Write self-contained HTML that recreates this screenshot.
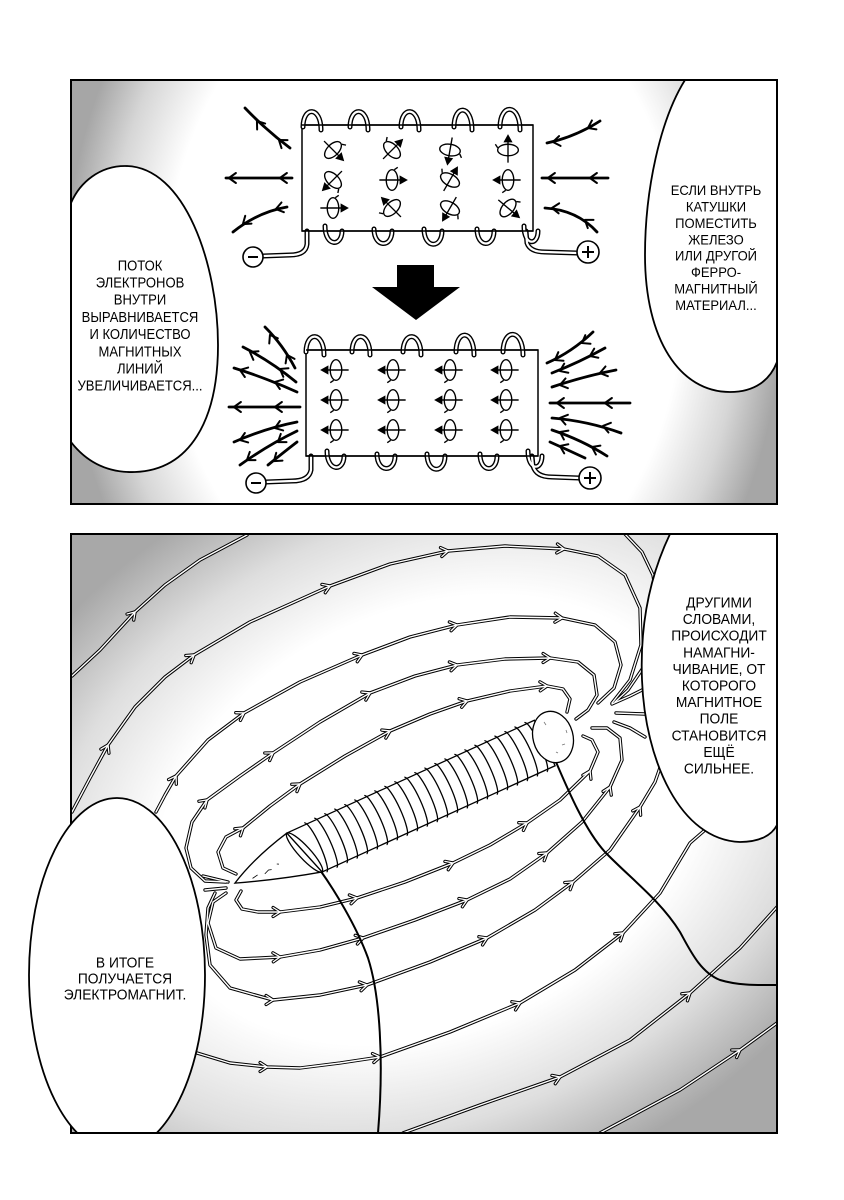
<!DOCTYPE html>
<html><head><meta charset="utf-8"><style>
html,body{margin:0;padding:0;background:#fff;}
svg{display:block;}
.t{font-family:"Liberation Sans","DejaVu Sans",sans-serif;fill:#000;text-anchor:middle;}
</style></head><body>
<svg width="844" height="1200" viewBox="0 0 844 1200" xmlns="http://www.w3.org/2000/svg">
<defs>
<radialGradient id="g1" gradientUnits="userSpaceOnUse" cx="424" cy="290" r="360" gradientTransform="translate(424 290) scale(1 1.3) translate(-424 -290)">
<stop offset="0" stop-color="#fff"/><stop offset="0.72" stop-color="#fff"/><stop offset="0.88" stop-color="#d6d6d6"/><stop offset="1" stop-color="#a6a6a6"/>
</radialGradient>
<radialGradient id="g2" gradientUnits="userSpaceOnUse" cx="430" cy="820" r="520" gradientTransform="translate(430 820) rotate(-25) scale(1 0.733) translate(-430 -820)">
<stop offset="0" stop-color="#fff"/><stop offset="0.55" stop-color="#fff"/><stop offset="0.78" stop-color="#dedede"/><stop offset="1" stop-color="#a8a8a8"/>
</radialGradient>
<clipPath id="cp1"><rect x="71" y="80" width="706" height="424"/></clipPath>
<clipPath id="cp2"><rect x="71" y="534" width="706" height="599"/></clipPath>
<clipPath id="cp2b"><rect x="0" y="534" width="777" height="599"/></clipPath>
<marker id="mb" markerUnits="userSpaceOnUse" orient="auto" markerWidth="20" markerHeight="20" viewBox="-10 -10 20 20" refX="0" refY="0" style="overflow:visible"><path d="M-7,-4.5 L0,0 L-7,4.5" fill="none" stroke="#000" stroke-width="3.3" stroke-linejoin="round" stroke-linecap="round"/></marker>
<marker id="mw" markerUnits="userSpaceOnUse" orient="auto" markerWidth="20" markerHeight="20" viewBox="-10 -10 20 20" refX="0" refY="0" style="overflow:visible"><path d="M-7,-4.5 L0,0 L-7,4.5" fill="none" stroke="#fff" stroke-width="1.3" stroke-linejoin="round" stroke-linecap="round"/></marker>
<marker id="mk" markerUnits="userSpaceOnUse" orient="auto" markerWidth="20" markerHeight="20" viewBox="-10 -10 20 20" refX="0" refY="0" style="overflow:visible"><path d="M-7,-5 L0,0 L-7,5" fill="none" stroke="#000" stroke-width="2" stroke-linejoin="round" stroke-linecap="round"/></marker>

<g id="sp" fill="none" stroke="#000" stroke-width="1.2" transform="scale(1.15)">
<ellipse rx="5" ry="9"/><path d="M-11,0 L9,0"/><path d="M13,0 L7,-3.3 L7,3.3 Z" fill="#000" stroke-width="0.8"/><path d="M2,-9 l3,-2"/>
</g>

<g id="fl">
<path d="M72,676 L100,650 L135,612 L165,585 L200,560 L247,535"/>
<path d="M72,812 L90,778 L108,745 L135,707 L165,677 L194,655 L250,622 L330,586 L390,564 L448,551 L505,546 L564,549 L598,556 L625,575 L640,608 L641,645 L630,680 L612,703"/>
<path d="M625,534 L642,552 L653,575 L658,605 L656,635 L645,665 L628,690 L615,702"/>
<path d="M156,812 L165,795 L176,776 L208,740 L244,713 L300,682 L362,655 L410,637 L457,625 L510,617 L562,618 L595,625 L615,642 L621,665 L614,688 L598,703"/>
<path d="M226,882 L205,881 L191,868 L186,848 L192,822 L207,800 L240,776 L273,753 L320,722 L370,693 L415,676 L457,665 L505,659 L550,658 L578,662 L594,675 L597,695 L588,710 L576,719"/>
<path d="M236,874 L223,868 L218,852 L226,837 L243,828 L270,806 L300,784 L345,756 L390,731 L430,714 L467,701 L510,691 L547,686 L563,689 L570,699 L567,712"/>
<path d="M241,891 L236,900 L242,909 L258,912 L280,912 L320,907 L357,898 L405,882 L453,863 L490,845 L527,823 L560,800 L590,771 L598,752 L592,740 L583,736"/>
<path d="M226,893 L213,902 L208,923 L216,948 L240,959 L280,957 L320,950 L363,938 L415,920 L467,900 L510,879 L547,853 L582,822 L610,787 L622,760 L620,738 L607,728 L592,728"/>
<path d="M215,893 L208,908 L206,935 L210,965 L230,988 L273,1000 L320,995 L367,985 L430,962 L487,938 L535,910 L573,882 L610,850 L640,807 L655,782 L662,762"/>
<path d="M197,1053 L230,1063 L267,1067 L300,1068 L340,1063 L380,1057 L450,1032 L520,1003 L575,970 L623,933 L660,893 L690,843 L705,830"/>
<path d="M403,1133 L480,1105 L560,1077 L630,1040 L690,993 L740,948 L777,907"/>
<path d="M600,1133 L680,1090 L740,1050 L777,1023"/>
<path d="M203,876 L228,882"/>
<path d="M205,890 L226,888"/>
<path d="M612,704 L630,696 L646,688"/>
<path d="M616,713 L645,714"/>
<path d="M614,722 L630,728 L645,737"/>
</g>

<g id="fa">
<path d="M135,612 l0.1,-0.11"/>
<path d="M108,745 l0.05,-0.1"/><path d="M194,655 l0.1,-0.075"/><path d="M330,586 l0.1,-0.04"/><path d="M448,551 l0.1,-0.015"/><path d="M564,549 l0.1,0.008"/>
<path d="M176,776 l0.06,-0.1"/><path d="M244,713 l0.1,-0.06"/><path d="M362,655 l0.1,-0.04"/><path d="M457,625 l0.1,-0.02"/><path d="M562,618 l0.1,0.005"/>
<path d="M207,800 l0.1,-0.09"/><path d="M273,753 l0.1,-0.065"/><path d="M370,693 l0.1,-0.05"/><path d="M457,665 l0.1,-0.02"/><path d="M550,658 l0.1,0"/>
<path d="M243,828 l0.1,-0.08"/><path d="M300,784 l0.1,-0.07"/><path d="M390,731 l0.1,-0.05"/><path d="M467,701 l0.1,-0.03"/><path d="M547,686 l0.1,-0.005"/>
<path d="M280,912 l0.1,0"/><path d="M357,898 l0.1,-0.02"/><path d="M453,863 l0.1,-0.04"/><path d="M527,823 l0.1,-0.06"/><path d="M590,771 l0.05,-0.1"/>
<path d="M280,957 l0.1,-0.005"/><path d="M363,938 l0.1,-0.025"/><path d="M467,900 l0.1,-0.042"/><path d="M547,853 l0.1,-0.075"/><path d="M610,787 l0.045,-0.1"/>
<path d="M273,1000 l0.1,0"/><path d="M367,985 l0.1,-0.02"/><path d="M487,938 l0.1,-0.045"/><path d="M573,882 l0.1,-0.075"/><path d="M640,807 l0.055,-0.1"/>
<path d="M267,1067 l0.1,0"/><path d="M380,1057 l0.1,-0.015"/><path d="M520,1003 l0.1,-0.045"/><path d="M623,933 l0.1,-0.08"/>
<path d="M560,1077 l0.1,-0.04"/><path d="M690,993 l0.1,-0.08"/>
<path d="M740,1050 l0.1,-0.065"/>
</g>
</defs>

<!-- ================= PANEL 1 ================= -->
<rect x="71" y="80" width="706" height="424" fill="url(#g1)"/>
<g clip-path="url(#cp1)">
<g fill="none" stroke="#000" stroke-width="2.8" stroke-linecap="round">
<path d="M245,108 Q266,130 290,148"/>
<path d="M226,178 L292,178"/>
<path d="M233,232 Q258,212 287,207"/>
<path d="M547,143 Q575,137 600,121"/>
<path d="M542,178 L608,178"/>
<path d="M545,208 Q577,210 597,232"/>
<path d="M265,327 Q283,345 295,368"/>
<path d="M243,347 Q272,362 296,382"/>
<path d="M234,368 Q266,378 297,392"/>
<path d="M229,407 L300,407"/>
<path d="M234,442 Q266,428 297,422"/>
<path d="M240,465 Q268,445 297,431"/>
<path d="M268,465 Q284,452 297,442"/>
<path d="M547,363 Q572,352 593,332"/>
<path d="M552,373 Q580,362 605,348"/>
<path d="M552,387 Q585,376 616,370"/>
<path d="M550,403 L630,403"/>
<path d="M552,418 Q588,421 621,433"/>
<path d="M552,430 Q582,440 607,456"/>
<path d="M550,442 Q568,450 585,458"/>
</g>
<g fill="none" stroke="none" marker-end="url(#mk)">
<path d="M257,121 l-0.06,-0.08"/><path d="M279,140 l-0.08,-0.06"/>
<path d="M229,178 l-0.1,0"/><path d="M280,178 l-0.1,0"/>
<path d="M243,224 l-0.1,0.08"/><path d="M276,209 l-0.1,0.025"/>
<path d="M553,142 l-0.1,0.015"/><path d="M588,128 l-0.1,0.05"/>
<path d="M548,178 l-0.1,0"/><path d="M590,178 l-0.1,0"/>
<path d="M552,208 l-0.1,-0.005"/><path d="M585,220 l-0.1,-0.07"/>
<path d="M270,335 l-0.06,-0.1"/><path d="M287,355 l-0.05,-0.1"/>
<path d="M250,352 l-0.1,-0.06"/><path d="M280,369 l-0.1,-0.06"/>
<path d="M240,370 l-0.1,-0.035"/><path d="M275,382 l-0.1,-0.035"/>
<path d="M234,407 l-0.1,0"/><path d="M275,407 l-0.1,0"/>
<path d="M240,440 l-0.1,0.035"/><path d="M275,428 l-0.1,0.035"/>
<path d="M247,460 l-0.1,0.07"/><path d="M278,442 l-0.1,0.07"/>
<path d="M274,461 l-0.1,0.08"/>
<path d="M555,360 l-0.1,0.06"/><path d="M582,343 l-0.1,0.06"/>
<path d="M560,371 l-0.1,0.045"/><path d="M590,356 l-0.1,0.045"/>
<path d="M560,385 l-0.1,0.025"/><path d="M600,373 l-0.1,0.025"/>
<path d="M557,403 l-0.1,0"/><path d="M605,403 l-0.1,0"/>
<path d="M560,418 l-0.1,-0.025"/><path d="M603,426 l-0.1,-0.025"/>
<path d="M560,432 l-0.1,-0.05"/><path d="M592,447 l-0.1,-0.05"/>
<path d="M560,446 l-0.1,-0.045"/>
</g>

<rect x="302" y="125" width="231" height="106" fill="#fff" stroke="#000" stroke-width="1.5"/>
<g fill="none" stroke-linecap="round">
<g stroke="#000" stroke-width="5">
<path d="M303,127 C303,106 321,106 321,130"/><path d="M350,127 C350,106 368,106 368,130"/><path d="M401,127 C401,106 419,106 419,130"/><path d="M454,127 C454,104 472,104 472,130"/><path d="M500,127 C500,103 520,103 520,130"/>
<path d="M325,226 C325,247 342,247 342,231"/><path d="M374,229 C374,248 392,248 392,231"/><path d="M424,229 C424,249 442,249 442,231"/><path d="M477,229 C477,248 494,248 494,231"/><path d="M524,226 C524,246 538,246 538,231"/>
<path d="M307,231 L307,244 Q306,255 290,255 L263,256"/><path d="M526,231 L527,243 Q530,252 545,252 L577,253"/>
</g>
<g stroke="#fff" stroke-width="2.2">
<path d="M303,127 C303,106 321,106 321,130"/><path d="M350,127 C350,106 368,106 368,130"/><path d="M401,127 C401,106 419,106 419,130"/><path d="M454,127 C454,104 472,104 472,130"/><path d="M500,127 C500,103 520,103 520,130"/>
<path d="M325,226 C325,247 342,247 342,231"/><path d="M374,229 C374,248 392,248 392,231"/><path d="M424,229 C424,249 442,249 442,231"/><path d="M477,229 C477,248 494,248 494,231"/><path d="M524,226 C524,246 538,246 538,231"/>
<path d="M307,232 L307,244 Q306,255 290,255 L263,256"/><path d="M526,232 L527,243 Q530,252 545,252 L577,253"/>
</g>
</g>
<line x1="302" y1="125" x2="533" y2="125" stroke="#000" stroke-width="1.5"/>
<line x1="302" y1="231" x2="533" y2="231" stroke="#000" stroke-width="1.5"/>
<circle cx="253" cy="257" r="10" fill="#fff" stroke="#000" stroke-width="1.6"/><path d="M248,257 L258,257" stroke="#000" stroke-width="2"/>
<circle cx="588" cy="252" r="11" fill="#fff" stroke="#000" stroke-width="1.6"/><path d="M582,252 L594,252 M588,246 L588,258" stroke="#000" stroke-width="2"/>

<use href="#sp" transform="translate(333,150) rotate(45)"/>
<use href="#sp" transform="translate(392,150) rotate(-45)"/>
<use href="#sp" transform="translate(450,150) rotate(100)"/>
<use href="#sp" transform="translate(508,150) rotate(-90)"/>
<use href="#sp" transform="translate(333,180) rotate(135)"/>
<use href="#sp" transform="translate(392,180) rotate(0)"/>
<use href="#sp" transform="translate(450,180) rotate(-60)"/>
<use href="#sp" transform="translate(508,180) rotate(180)"/>
<use href="#sp" transform="translate(333,208) rotate(0)"/>
<use href="#sp" transform="translate(392,208) rotate(-135)"/>
<use href="#sp" transform="translate(450,208) rotate(120)"/>
<use href="#sp" transform="translate(508,208) rotate(40)"/>

<path d="M397,265 L434,265 L434,287 L460,287 L416,320 L372,287 L397,287 Z" fill="#000"/>

<rect x="306" y="350" width="232" height="106" fill="#fff" stroke="#000" stroke-width="1.5"/>
<g fill="none" stroke-linecap="round">
<g stroke="#000" stroke-width="5">
<path d="M306,352 C306,331 324,331 324,355"/><path d="M352,352 C352,331 370,331 370,355"/><path d="M403,352 C403,331 421,331 421,355"/><path d="M456,352 C456,329 474,329 474,355"/><path d="M503,352 C503,328 523,328 523,355"/>
<path d="M327,451 C327,472 344,472 344,456"/><path d="M377,454 C377,473 395,473 395,456"/><path d="M427,454 C427,474 445,474 445,456"/><path d="M480,454 C480,473 497,473 497,456"/><path d="M528,451 C528,471 542,471 542,456"/>
<path d="M311,456 L311,470 Q309,481 292,481 L266,482"/><path d="M532,456 L533,466 Q536,477 552,477 L579,478"/>
</g>
<g stroke="#fff" stroke-width="2.2">
<path d="M306,352 C306,331 324,331 324,355"/><path d="M352,352 C352,331 370,331 370,355"/><path d="M403,352 C403,331 421,331 421,355"/><path d="M456,352 C456,329 474,329 474,355"/><path d="M503,352 C503,328 523,328 523,355"/>
<path d="M327,451 C327,472 344,472 344,456"/><path d="M377,454 C377,473 395,473 395,456"/><path d="M427,454 C427,474 445,474 445,456"/><path d="M480,454 C480,473 497,473 497,456"/><path d="M528,451 C528,471 542,471 542,456"/>
<path d="M311,457 L311,470 Q309,481 292,481 L266,482"/><path d="M532,457 L533,466 Q536,477 552,477 L579,478"/>
</g>
</g>
<line x1="306" y1="350" x2="538" y2="350" stroke="#000" stroke-width="1.5"/>
<line x1="306" y1="456" x2="538" y2="456" stroke="#000" stroke-width="1.5"/>
<circle cx="256" cy="483" r="10" fill="#fff" stroke="#000" stroke-width="1.6"/><path d="M251,483 L261,483" stroke="#000" stroke-width="2"/>
<circle cx="590" cy="478" r="11" fill="#fff" stroke="#000" stroke-width="1.6"/><path d="M584,478 L596,478 M590,472 L590,484" stroke="#000" stroke-width="2"/>

<use href="#sp" transform="translate(336,370) rotate(180)"/>
<use href="#sp" transform="translate(393,370) rotate(180)"/>
<use href="#sp" transform="translate(450,370) rotate(180)"/>
<use href="#sp" transform="translate(506,370) rotate(180)"/>
<use href="#sp" transform="translate(336,400) rotate(180)"/>
<use href="#sp" transform="translate(393,400) rotate(180)"/>
<use href="#sp" transform="translate(450,400) rotate(180)"/>
<use href="#sp" transform="translate(506,400) rotate(180)"/>
<use href="#sp" transform="translate(336,430) rotate(180)"/>
<use href="#sp" transform="translate(393,430) rotate(180)"/>
<use href="#sp" transform="translate(450,430) rotate(180)"/>
<use href="#sp" transform="translate(506,430) rotate(180)"/>

<path d="M71,203 C80,182 100,166 125,166 C185,166 218,265 218,345 C218,420 190,470 135,472 C105,473 85,460 71,442 Z" fill="#fff" stroke="#000" stroke-width="1.8"/>
<path d="M685,80 C660,120 645,190 645,255 C645,340 680,392 730,392 C755,392 770,380 777,362 L777,80 Z" fill="#fff" stroke="#000" stroke-width="1.8"/>
</g>
<g class="t" font-size="14.5" transform="translate(140,0) scale(0.9,1)">
<text x="0" y="270.3">ПОТОК</text>
<text x="0" y="287.5">ЭЛЕКТРОНОВ</text>
<text x="0" y="304.7">ВНУТРИ</text>
<text x="0" y="321.9">ВЫРАВНИВАЕТСЯ</text>
<text x="0" y="339.1">И КОЛИЧЕСТВО</text>
<text x="0" y="356.3">МАГНИТНЫХ</text>
<text x="0" y="373.5">ЛИНИЙ</text>
<text x="0" y="390.7">УВЕЛИЧИВАЕТСЯ...</text>
</g>
<g class="t" font-size="14" transform="translate(716,0) scale(0.93,1)">
<text x="0" y="195.1">ЕСЛИ ВНУТРЬ</text>
<text x="0" y="211.5">КАТУШКИ</text>
<text x="0" y="227.9">ПОМЕСТИТЬ</text>
<text x="0" y="244.3">ЖЕЛЕЗО</text>
<text x="0" y="260.7">ИЛИ ДРУГОЙ</text>
<text x="0" y="277.1">ФЕРРО-</text>
<text x="0" y="293.5">МАГНИТНЫЙ</text>
<text x="0" y="309.9">МАТЕРИАЛ...</text>
</g>
<rect x="71" y="80" width="706" height="424" fill="none" stroke="#000" stroke-width="2"/>

<!-- ================= PANEL 2 ================= -->
<rect x="71" y="534" width="706" height="599" fill="url(#g2)"/>
<g clip-path="url(#cp2)">
<use href="#fl" fill="none" stroke="#000" stroke-width="3.4" stroke-linejoin="round" stroke-linecap="round"/>
<use href="#fa" fill="none" stroke="none" marker-end="url(#mb)"/>
<use href="#fl" fill="none" stroke="#fff" stroke-width="1.4" stroke-linejoin="round" stroke-linecap="round"/>
<use href="#fa" fill="none" stroke="none" marker-end="url(#mw)"/>

<path d="M320,870 C333,888 356,925 368,958 C380,995 384,1060 378,1133" fill="none" stroke="#000" stroke-width="2"/>
<path d="M556,762 C568,790 585,830 605,852 C630,878 660,900 680,932 C690,950 700,972 720,980 C740,986 760,985 777,985" fill="none" stroke="#000" stroke-width="2"/>

<g transform="translate(304.5,852.5) rotate(-24.5)" stroke="#000" stroke-width="1.3">
<path d="M-8,-25 Q-48,-16 -76,-1 Q-35,14 8,25 Z" fill="#fff"/>
<path d="M-8,-25 L264,-25 L264,25 L8,25 Z" fill="#fff"/>
<ellipse cx="0" cy="0" rx="6" ry="26" transform="rotate(-18)" fill="none"/>
<path d="M-58,2 l6,-1 M-45,3 l5,-2 l3,1 M-30,-1 l2,1" fill="none" stroke-width="0.8"/>
<g fill="none" stroke-width="1.3">
<path d="M12,-27 A5 27 0 0 1 12,27"/><path d="M23,-27 A5 27 0 0 1 23,27"/><path d="M34,-27 A5 27 0 0 1 34,27"/><path d="M45,-27 A5 27 0 0 1 45,27"/><path d="M56,-27 A5 27 0 0 1 56,27"/><path d="M67,-27 A5 27 0 0 1 67,27"/><path d="M78,-27 A5 27 0 0 1 78,27"/><path d="M89,-27 A5 27 0 0 1 89,27"/><path d="M100,-27 A5 27 0 0 1 100,27"/><path d="M111,-27 A5 27 0 0 1 111,27"/><path d="M122,-27 A5 27 0 0 1 122,27"/><path d="M133,-27 A5 27 0 0 1 133,27"/><path d="M144,-27 A5 27 0 0 1 144,27"/><path d="M155,-27 A5 27 0 0 1 155,27"/><path d="M166,-27 A5 27 0 0 1 166,27"/><path d="M177,-27 A5 27 0 0 1 177,27"/><path d="M188,-27 A5 27 0 0 1 188,27"/><path d="M199,-27 A5 27 0 0 1 199,27"/><path d="M210,-27 A5 27 0 0 1 210,27"/><path d="M221,-27 A5 27 0 0 1 221,27"/><path d="M232,-27 A5 27 0 0 1 232,27"/><path d="M243,-27 A5 27 0 0 1 243,27"/><path d="M254,-27 A5 27 0 0 1 254,27"/>
</g>
</g>
<ellipse cx="553" cy="737" rx="20" ry="26" transform="rotate(-15 553 737)" fill="#fff" stroke="#000" stroke-width="1.3"/>
<path d="M544,722 l2,3 M562,745 l3,-1 M556,752 l2,1 M566,730 l1,3" stroke="#777" stroke-width="0.8" fill="none"/>

<path d="M670,534 C648,580 640,630 642,680 C645,760 680,840 740,842 C760,842 772,835 777,825 L777,534 Z" fill="#fff" stroke="#000" stroke-width="1.8"/>
</g>
<rect x="71" y="534" width="706" height="599" fill="none" stroke="#000" stroke-width="2"/>
<g clip-path="url(#cp2b)">
<ellipse cx="117" cy="975" rx="88" ry="177" fill="#fff" stroke="#000" stroke-width="1.8"/>
</g>
<line x1="70" y1="1133" x2="778" y2="1133" stroke="#000" stroke-width="2"/>

<g class="t" font-size="15" transform="translate(719,0) scale(0.92,1)">
<text x="0" y="607.5">ДРУГИМИ</text>
<text x="0" y="624.1">СЛОВАМИ,</text>
<text x="0" y="640.7">ПРОИСХОДИТ</text>
<text x="0" y="657.3">НАМАГНИ-</text>
<text x="0" y="673.9">ЧИВАНИЕ, ОТ</text>
<text x="0" y="690.5">КОТОРОГО</text>
<text x="0" y="707.1">МАГНИТНОЕ</text>
<text x="0" y="723.7">ПОЛЕ</text>
<text x="0" y="740.3">СТАНОВИТСЯ</text>
<text x="0" y="756.9">ЕЩЁ</text>
<text x="0" y="773.5">СИЛЬНЕЕ.</text>
</g>
<g class="t" font-size="15" transform="translate(125,0) scale(0.92,1)">
<text x="0" y="967.5">В ИТОГЕ</text>
<text x="0" y="983.5">ПОЛУЧАЕТСЯ</text>
<text x="0" y="999.5">ЭЛЕКТРОМАГНИТ.</text>
</g>
</svg>
</body></html>
